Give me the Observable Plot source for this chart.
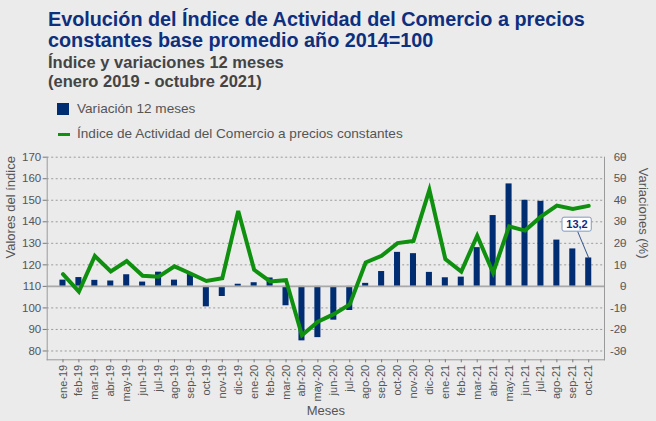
<!DOCTYPE html>
<html>
<head>
<meta charset="utf-8">
<script src="https://cdn.jsdelivr.net/npm/d3@7"></script>
<script src="https://cdn.jsdelivr.net/npm/@observablehq/plot@0.6"></script>
<style>
  html, body { margin: 0; padding: 0; background: #ebebeb; }
  #wrap { position: relative; width: 656px; height: 421px; background: #ebebeb; overflow: hidden; font-family: "Liberation Sans", Arial, sans-serif; }
  .title { position: absolute; left: 48px; top: 9px; font-size: 19.8px; line-height: 20.5px; font-weight: bold; color: #0d2f7e; white-space: nowrap; }
  .subtitle { position: absolute; left: 48px; top: 53px; font-size: 16.5px; line-height: 19px; font-weight: bold; color: #444; white-space: nowrap; }
  .leg { position: absolute; left: 77px; font-size: 13.6px; line-height: 14px; color: #555; white-space: nowrap; }
  .sw { position: absolute; }
  #chart { position: absolute; left: 0; top: 145px; }
</style>
</head>
<body>
<div id="wrap">
  <div class="title">Evolución del Índice de Actividad del Comercio a precios<br>constantes base promedio año 2014=100</div>
  <div class="subtitle">Índice y variaciones 12 meses<br>(enero 2019 - octubre 2021)</div>
  <div class="sw" style="left:57px;top:103px;width:12px;height:12px;background:#002d72;"></div>
  <div class="leg" style="top:101.6px;">Variación 12 meses</div>
  <div class="sw" style="left:58px;top:133px;width:12px;height:3px;background:#0f900f;"></div>
  <div class="leg" style="top:126.6px;">Índice de Actividad del Comercio a precios constantes</div>
  <div id="chart"></div>
</div>
<script>
const months = ["ene-19","feb-19","mar-19","abr-19","may-19","jun-19","jul-19","ago-19","sep-19","oct-19","nov-19","dic-19",
  "ene-20","feb-20","mar-20","abr-20","may-20","jun-20","jul-20","ago-20","sep-20","oct-20","nov-20","dic-20",
  "ene-21","feb-21","mar-21","abr-21","may-21","jun-21","jul-21","ago-21","sep-21","oct-21"];
const variacion = [2.9, 4.1, 2.8, 2.5, 5.4, 2.0, 6.6, 2.9, 5.7, -9.5, -4.7, 1.0,
  1.7, 3.9, -9.0, -25.3, -23.8, -15.7, -11.2, 1.4, 6.9, 15.8, 15.2, 6.5,
  4.0, 4.3, 18.0, 32.9, 47.6, 40.0, 39.5, 21.5, 17.4, 13.2];
const indice = [115.7, 107.6, 124.1, 116.9, 121.8, 114.9, 114.5, 119.3, 116.0, 112.5, 113.8, 145.0,
  117.7, 112.3, 112.9, 87.3, 93.6, 97.1, 101.6, 121.1, 124.2, 130.1, 131.1, 154.8,
  122.7, 116.9, 133.5, 116.3, 137.9, 135.9, 142.4, 147.5, 146.0, 147.4];
const indexTicks = [80, 90, 100, 110, 120, 130, 140, 150, 160, 170];
const baseIndex = 110; // 0 % on the right axis aligns with 110 on the left axis
const annotationMonth = "oct-21";
const annotationText = "13,2";

const data = months.map((m, i) => ({month: m, variacion: variacion[i], indice: indice[i]}));
const ann = data.filter(d => d.month === annotationMonth);

const font = "Liberation Sans, Arial, sans-serif";
const chart = Plot.plot({
  width: 656,
  height: 276,
  marginTop: 11.7,
  marginBottom: 61.7,
  marginLeft: 46.7,
  marginRight: 52,
  style: {background: "transparent", fontFamily: font, fontSize: "12px", color: "#555"},
  x: {type: "band", domain: months, paddingInner: 0.62, paddingOuter: 0.8},
  y: {domain: [75.9, 170]},
  marks: [
    Plot.ruleY(indexTicks.filter(t => t !== baseIndex), {stroke: "#9a9a9a", strokeDasharray: "2,2.5", strokeWidth: 1}),
    Plot.barY(data, {x: "month", y1: baseIndex, y2: d => baseIndex + d.variacion, fill: "#002d72"}),
    Plot.ruleY([baseIndex], {stroke: "#a8a8a8", strokeWidth: 1.6}),
    Plot.line(data, {x: "month", y: "indice", stroke: "#0f900f", strokeWidth: 4, strokeLinejoin: "miter", strokeMiterlimit: 4}),
    Plot.frame({anchor: "left", stroke: "#9a9a9a"}),
    Plot.frame({anchor: "right", stroke: "#9a9a9a"}),
    Plot.frame({anchor: "bottom", stroke: "#9a9a9a"}),
    Plot.axisY({anchor: "left", ticks: indexTicks, tickSize: 4, tickPadding: 2, stroke: "#777", fill: "#555", fontSize: 11.5, label: null}),
    Plot.axisY({anchor: "right", ticks: indexTicks, tickFormat: d => String(d - baseIndex), tickSize: 4, tickPadding: 2, textAnchor: "end", dx: 16, stroke: "#777", fill: "#555", fontSize: 11.5, label: null}),
    Plot.axisX({anchor: "bottom", tickRotate: -90, tickSize: 3, tickPadding: 2, stroke: "#777", fill: "#555", fontSize: 11, label: null}),
    Plot.text(["Valores del índice"], {frameAnchor: "left", dx: -36, rotate: -90, fontSize: 13, fill: "#555", lineAnchor: "middle"}),
    Plot.text(["Variaciones (%)"], {frameAnchor: "right", dx: 39, rotate: 90, fontSize: 13, fill: "#555", lineAnchor: "middle"}),
    Plot.text(["Meses"], {frameAnchor: "bottom", dy: 51, fontSize: 13, fill: "#555", lineAnchor: "middle"}),
    Plot.vector(ann, {x: "month", y: d => baseIndex + d.variacion, length: 28.5, rotate: -22.7, anchor: "start", stroke: "#3a5a8c", strokeWidth: 1,
      shape: {draw(context, l) { context.moveTo(0, 0); context.lineTo(0, -l); }}}),
    Plot.barY(ann, {x: "month", y1: d => baseIndex + d.variacion, y2: d => baseIndex + d.variacion, insetLeft: -23.2, insetRight: 0, insetTop: -40.3, insetBottom: 26.3, fill: "white", stroke: "#7f98bf", strokeWidth: 1, rx: 2}),
    Plot.text(ann, {x: "month", y: d => baseIndex + d.variacion, text: () => annotationText, dx: -11.7, dy: -33.3, fontSize: 11, fontWeight: "bold", fill: "#0d2f7e", lineAnchor: "middle"})
  ]
});
document.getElementById("chart").appendChild(chart);
</script>
</body>
</html>
